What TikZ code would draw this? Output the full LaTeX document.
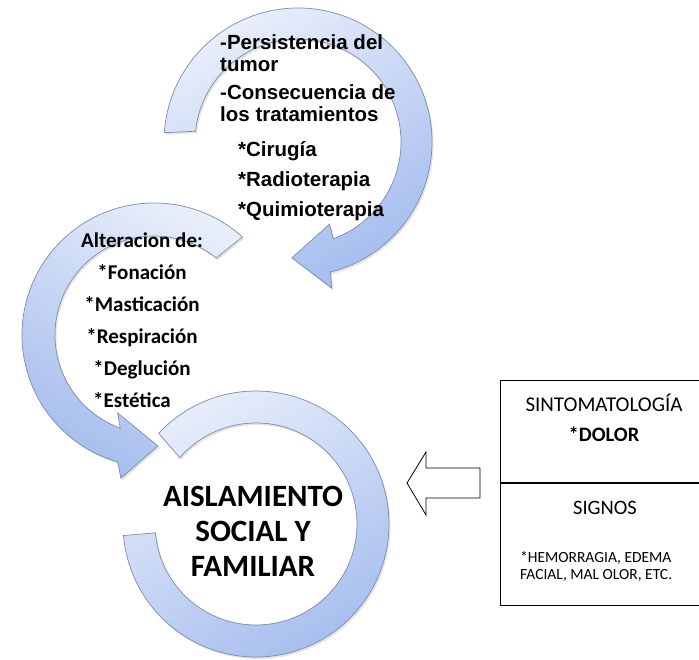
\documentclass[tikz,border=0pt]{standalone}
\usepackage{fontspec}
\setmainfont{Carlito}
\newfontfamily\arialfont{Liberation Sans}
\usetikzlibrary{calc,shadows}
\definecolor{ringlight}{HTML}{E8EEFA}
\definecolor{ringdark}{HTML}{A4BCEE}
\definecolor{ringline}{HTML}{7E8CA8}

\begin{document}
\begin{tikzpicture}[x=1pt,y=1pt,
	ring/.style={draw=ringline, line width=0.7pt, top color=ringlight, bottom color=ringdark,
		drop shadow={opacity=0.22, shadow xshift=1.5pt, shadow yshift=-2pt}},
	boxline/.style={draw, line width=0.9pt, minimum width=208pt, inner sep=0pt}]
	\useasboundingbox (0,0) rectangle (699,659);
	\coordinate (Ct) at (298,517); % centro anillo superior
	\coordinate (Cm) at (154,324); % centro anillo medio
	\coordinate (Cb) at (256,135); % centro anillo inferior
	% anillo superior
	\draw[ring, shading angle=30] ($(Ct)+(176:134pt)$) arc[start angle=176, end angle=-76, radius=134pt]
		-- ($(Ct)+(-77:150pt)$) -- ($(Ct)+(-93:116pt)$) -- ($(Ct)+(-69:88pt)$) -- ($(Ct)+(-70:103pt)$)
		arc[start angle=-70, end angle=174, radius=103pt] -- cycle;
	% anillo medio
	\draw[ring, shading angle=-30] ($(Cm)+(48:132pt)$) arc[start angle=48, end angle=254, radius=132pt]
		-- ($(Cm)+(257:147pt)$) -- ($(Cm)+(272:111pt)$) -- ($(Cm)+(245:86pt)$) -- ($(Cm)+(250:99pt)$)
		arc[start angle=250, end angle=51, radius=99pt] -- cycle;
	% anillo inferior
	\draw[ring, shading angle=30] ($(Cb)+(137:133pt)$) arc[start angle=137, end angle=-175, radius=133pt]
		-- ($(Cb)+(-175:101pt)$) arc[start angle=-175, end angle=139, radius=101pt] -- cycle;
	% textos (base = ultima linea)
	\node[anchor=base west, align=left, inner sep=0pt, font=\arialfont\bfseries\fontsize{20.5}{22}\selectfont] (causas) at (220,442)
		{-Persistencia del\\ tumor\\[6pt] -Consecuencia de\\ los tratamientos\\[13pt]
		\hspace*{18pt}*Cirugía\\[8pt] \hspace*{18pt}*Radioterapia\\[8pt] \hspace*{18pt}*Quimioterapia};
	\node[anchor=base, align=center, inner sep=0pt, font=\bfseries\fontsize{21}{32}\selectfont] (altera) at (142,251)
		{Alteracion de:\\ *Fonación\\ *Masticación\\ *Respiración\\ *Deglución\\ *Estética\hspace*{20pt}};
	\node[anchor=base, align=center, inner sep=0pt, font=\bfseries\fontsize{31}{35}\selectfont] (aisla) at (253,82)
		{AISLAMIENTO\\ SOCIAL Y\\ FAMILIAR};
	% cuadro derecho
	\node[boxline, minimum height=102pt, anchor=south west] (sinto) at (500,176) {};
	\node[boxline, minimum height=122pt, anchor=north west] (signo) at (sinto.south west) {};
	\node[anchor=base, inner sep=0pt, font=\fontsize{21}{24}\selectfont] (sintt) at (604,247) {SINTOMATOLOGÍA};
	\node[anchor=base, inner sep=0pt, font=\bfseries\fontsize{20.5}{24}\selectfont] (dolor) at (604,217) {*DOLOR};
	\node[anchor=base, inner sep=0pt, font=\fontsize{20.5}{24}\selectfont] (signt) at (605,144) {SIGNOS};
	\node[anchor=base west, align=left, inner sep=0pt, font=\fontsize{15.5}{17}\selectfont] (hemo) at (520,79)
		{*HEMORRAGIA, EDEMA\\ FACIAL, MAL OLOR, ETC.};
	% flecha hueca
	\draw[line width=0.8pt, fill=white] (407,176) -- (426,207) -- (426,191) -- (480,191)
		-- (480,161) -- (426,161) -- (426,144) -- cycle;
\end{tikzpicture}
\end{document}
